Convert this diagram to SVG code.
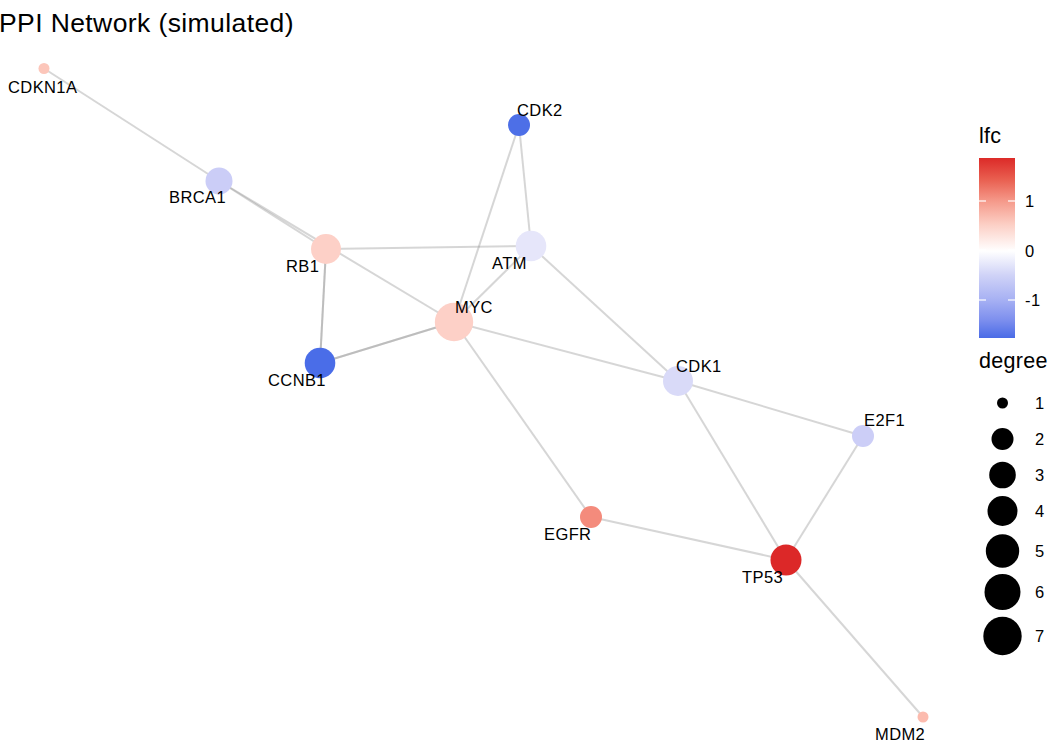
<svg xmlns="http://www.w3.org/2000/svg" width="1050" height="750" viewBox="0 0 1050 750">
<style>
.edge{stroke:#999999;stroke-opacity:0.4;stroke-width:2;fill:none}
.lbl{font-family:"Liberation Sans",Arial,sans-serif;font-size:16.5px;letter-spacing:0.4px;fill:#000}
.title{font-family:"Liberation Sans",Arial,sans-serif;font-size:26.5px;letter-spacing:0.4px;fill:#000}
.ltitle{font-family:"Liberation Sans",Arial,sans-serif;font-size:21.5px;letter-spacing:0.3px;fill:#000}
.tick{stroke:#ffffff;stroke-width:1.2}
</style>
<defs>
<linearGradient id="lfcgrad" x1="0" y1="0" x2="0" y2="1">
<stop offset="0" stop-color="#DC2A28"/>
<stop offset="0.12" stop-color="#E95F50"/>
<stop offset="0.239" stop-color="#F5998A"/>
<stop offset="0.37" stop-color="#FCCFC5"/>
<stop offset="0.517" stop-color="#FFFFFF"/>
<stop offset="0.65" stop-color="#D0D3F7"/>
<stop offset="0.79" stop-color="#A6B0F3"/>
<stop offset="0.9" stop-color="#7D8FEE"/>
<stop offset="1" stop-color="#4A6BE6"/>
</linearGradient>
</defs>
<rect width="1050" height="750" fill="#ffffff"/>
<text class="title" x="-1" y="32">PPI Network (simulated)</text>
<g id="edges">
<line class="edge" x1="44" y1="68.5" x2="219" y2="181"/>
<line class="edge" x1="219" y1="181" x2="326" y2="249"/>
<line class="edge" x1="219" y1="181" x2="454" y2="322"/>
<line class="edge" x1="519" y1="125" x2="454" y2="322"/>
<line class="edge" x1="519" y1="125" x2="531" y2="246"/>
<line class="edge" x1="326" y1="249" x2="531" y2="246"/>
<line class="edge" x1="326" y1="249" x2="320" y2="363"/>
<line class="edge" x1="326" y1="249" x2="320" y2="363"/>
<line class="edge" x1="320" y1="363" x2="454" y2="322"/>
<line class="edge" x1="320" y1="363" x2="454" y2="322"/>
<line class="edge" x1="531" y1="246" x2="454" y2="322"/>
<line class="edge" x1="531" y1="246" x2="678" y2="381"/>
<line class="edge" x1="454" y1="322" x2="678" y2="381"/>
<line class="edge" x1="454" y1="322" x2="591" y2="517"/>
<line class="edge" x1="678" y1="381" x2="863" y2="436"/>
<line class="edge" x1="678" y1="381" x2="786" y2="560"/>
<line class="edge" x1="863" y1="436" x2="786" y2="560"/>
<line class="edge" x1="591" y1="517" x2="786" y2="560"/>
<line class="edge" x1="786" y1="560" x2="923" y2="717"/>
</g>
<g id="node-CDKN1A"><circle cx="44" cy="68.5" r="5.5" fill="#FCC6BA"/><text class="lbl" x="8" y="93">CDKN1A</text></g>
<g id="node-CDK2"><circle cx="519" cy="125" r="11" fill="#4D6FE7"/><text class="lbl" x="517" y="116">CDK2</text></g>
<g id="node-BRCA1"><circle cx="219" cy="181" r="13.5" fill="#CBCDF7"/><text class="lbl" x="169" y="203">BRCA1</text></g>
<g id="node-RB1"><circle cx="326" cy="249" r="15" fill="#FDD0C7"/><text class="lbl" x="286" y="272">RB1</text></g>
<g id="node-ATM"><circle cx="531" cy="246" r="15.3" fill="#E6E6FA"/><text class="lbl" x="492" y="269">ATM</text></g>
<g id="node-MYC"><circle cx="454" cy="322" r="19.2" fill="#FDD0C7"/><text class="lbl" x="455" y="313">MYC</text></g>
<g id="node-CCNB1"><circle cx="320" cy="363" r="15.3" fill="#4A6DE8"/><text class="lbl" x="268" y="386">CCNB1</text></g>
<g id="node-CDK1"><circle cx="678" cy="381" r="15" fill="#D9DAF8"/><text class="lbl" x="676" y="372">CDK1</text></g>
<g id="node-E2F1"><circle cx="863" cy="436" r="11" fill="#CCCEF7"/><text class="lbl" x="864" y="426">E2F1</text></g>
<g id="node-EGFR"><circle cx="591" cy="517" r="11" fill="#F48B7C"/><text class="lbl" x="544" y="540">EGFR</text></g>
<g id="node-TP53"><circle cx="786" cy="560" r="15.5" fill="#DC2828"/><text class="lbl" x="742" y="583">TP53</text></g>
<g id="node-MDM2"><circle cx="923" cy="717" r="5.5" fill="#FCBBAE"/><text class="lbl" x="875" y="740">MDM2</text></g>
<g id="legend-lfc">
<text class="ltitle" x="979" y="143">lfc</text>
<rect x="979" y="158" width="36" height="180" fill="url(#lfcgrad)"/>
<line class="tick" x1="979" y1="201" x2="986" y2="201"/><line class="tick" x1="1008" y1="201" x2="1015" y2="201"/>
<line class="tick" x1="979" y1="250" x2="986" y2="250"/><line class="tick" x1="1008" y1="250" x2="1015" y2="250"/>
<line class="tick" x1="979" y1="300" x2="986" y2="300"/><line class="tick" x1="1008" y1="300" x2="1015" y2="300"/>
<text class="lbl" x="1025" y="207">1</text>
<text class="lbl" x="1025" y="256.5">0</text>
<text class="lbl" x="1025" y="305.5">-1</text>
</g>
<g id="legend-degree">
<text class="ltitle" x="979" y="368">degree</text>
<circle cx="1002.5" cy="403" r="5.5" fill="#000"/><text class="lbl" x="1035" y="409">1</text>
<circle cx="1002.5" cy="439" r="11" fill="#000"/><text class="lbl" x="1035" y="445">2</text>
<circle cx="1002.5" cy="475" r="13.3" fill="#000"/><text class="lbl" x="1035" y="481">3</text>
<circle cx="1002.5" cy="511" r="15" fill="#000"/><text class="lbl" x="1035" y="517">4</text>
<circle cx="1002.5" cy="551" r="16.7" fill="#000"/><text class="lbl" x="1035" y="557">5</text>
<circle cx="1002.5" cy="592" r="18" fill="#000"/><text class="lbl" x="1035" y="598">6</text>
<circle cx="1002.5" cy="636" r="19.2" fill="#000"/><text class="lbl" x="1035" y="642">7</text>
</g>
</svg>
